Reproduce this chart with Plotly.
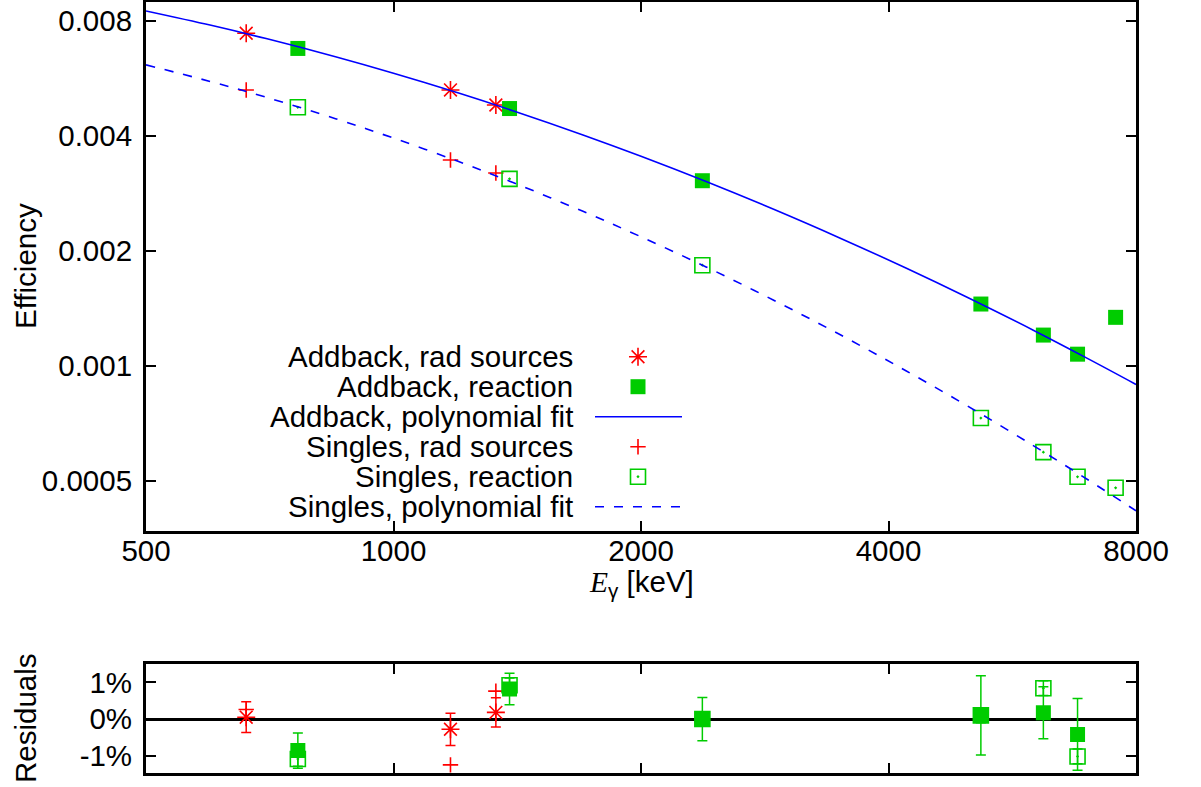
import plotly.graph_objects as go
import math

# ---------------- data ----------------
E_rad = [662, 1173, 1332]
addback_rad = [0.00743, 0.00528, 0.00482]
singles_rad = [0.00528, 0.00346, 0.00320]

E_rx = [765, 1384, 2375, 5181, 6172, 6792, 7556]
addback_rx = [0.00678, 0.00472, 0.003055, 0.001453, 0.001205, 0.001074, 0.001341]
singles_rx = [0.004756, 0.00309, 0.001836, 0.000731, 0.000595, 0.000513, 0.00048]

fit_E = [500, 600, 700, 850, 1000, 1200, 1400, 1700, 2000, 2400, 2900, 3500, 4200, 5000, 6000, 7000, 8000]
addback_fit = [0.00850, 0.007794, 0.007195, 0.006448, 0.005838, 0.005181, 0.004652, 0.004026, 0.003540,
               0.003040, 0.002572, 0.002158, 0.001805, 0.001509, 0.001241, 0.001044, 0.000895]
singles_fit = [0.00614, 0.005549, 0.005052, 0.004441, 0.003950, 0.003429, 0.003017, 0.002540, 0.002179,
               0.001817, 0.001487, 0.001205, 0.000972, 0.000784, 0.000619, 0.000503, 0.000418]

# residuals in percent
res_E_rx = [765, 1384, 2375, 5181, 6172, 6792]
res_addback_rad = [0.05, -0.28, 0.18]
err_addback_rad = [0.42, 0.44, 0.40]
res_singles_rad = [0.26, -1.25, 0.76]
res_addback_rx = [-0.86, 0.82, 0.0, 0.10, 0.17, -0.42]
err_addback_rx = [0.48, 0.43, 0.59, 1.08, 0.71, 0.98]
res_singles_rx = [-1.09, 0.92, 0.0, 0.10, 0.84, -1.02]
err_singles_rx = [0.20, 0.20, 0.20, 0.20, 0.20, 0.20]

x_tickvals = [500, 1000, 2000, 4000, 8000]
x_ticktext = ["500", "1000", "2000", "4000", "8000"]
y_tickvals = [0.0005, 0.001, 0.002, 0.004, 0.008]
y_ticktext = ["0.0005", "0.001", "0.002", "0.004", "0.008"]
r_tickvals = [-1, 0, 1]
r_ticktext = ["-1%", "0%", "1%"]

legend_labels = ["Addback, rad sources", "Addback, reaction", "Addback, polynomial fit",
                 "Singles, rad sources", "Singles, reaction", "Singles, polynomial fit"]

# ---------------- style ----------------
W, H = 1201, 787
RED = "#ff0000"
GREEN = "#00cc00"
BLUE = "#0000ff"
FONT = "Liberation Sans, Arial, Helvetica, sans-serif"
FS = 29.5

# pixel geometry (window pixels)
PX_L, PX_R = 146, 1136
TOP_T, TOP_B = 2, 531
RES_T, RES_B = 664, 773.3

def px(xp):
    return xp / W

def py(yp):
    return 1 - yp / H

fig = go.Figure()

ast = dict(symbol="asterisk-open", size=15, color=RED, line=dict(color=RED, width=1.6))
fsq = dict(symbol="square", size=15, color=GREEN, line=dict(width=0))
crs = dict(symbol="cross-thin-open", size=11, color=RED, line=dict(color=RED, width=1.6))
osq = dict(symbol="square-open-dot", size=15, color=GREEN, line=dict(color=GREEN, width=1.6))

# ---------------- top panel ----------------
fig.add_trace(go.Scatter(x=E_rad, y=addback_rad, mode="markers", name=legend_labels[0],
                         marker=ast, xaxis="x", yaxis="y"))
fig.add_trace(go.Scatter(x=E_rx, y=addback_rx, mode="markers", name=legend_labels[1],
                         marker=fsq, xaxis="x", yaxis="y"))
fig.add_trace(go.Scatter(x=fit_E, y=addback_fit, mode="lines", name=legend_labels[2],
                         line=dict(color=BLUE, width=1.6, shape="spline"), xaxis="x", yaxis="y"))
fig.add_trace(go.Scatter(x=E_rad, y=singles_rad, mode="markers", name=legend_labels[3],
                         marker=crs, xaxis="x", yaxis="y"))
fig.add_trace(go.Scatter(x=E_rx, y=singles_rx, mode="markers", name=legend_labels[4],
                         marker=osq, xaxis="x", yaxis="y"))
fig.add_trace(go.Scatter(x=fit_E, y=singles_fit, mode="lines", name=legend_labels[5],
                         line=dict(color=BLUE, width=1.6, dash="9px,10px", shape="spline"), xaxis="x", yaxis="y"))

# ---------------- residual panel ----------------
fig.add_trace(go.Scatter(x=E_rad, y=res_singles_rad, mode="markers", showlegend=False,
                         marker=crs, xaxis="x2", yaxis="y2"))
fig.add_trace(go.Scatter(x=res_E_rx, y=res_singles_rx, mode="markers", showlegend=False,
                         error_y=dict(type="data", array=err_singles_rx, color=GREEN, thickness=1.5, width=5),
                         marker=osq, xaxis="x2", yaxis="y2"))
fig.add_trace(go.Scatter(x=E_rad, y=res_addback_rad, mode="markers", showlegend=False,
                         error_y=dict(type="data", array=err_addback_rad, color=RED, thickness=1.5, width=5),
                         marker=ast, xaxis="x2", yaxis="y2"))
fig.add_trace(go.Scatter(x=res_E_rx, y=res_addback_rx, mode="markers", showlegend=False,
                         error_y=dict(type="data", array=err_addback_rx, color=GREEN, thickness=1.5, width=5),
                         marker=fsq, xaxis="x2", yaxis="y2"))

# ---------------- manual legend (text right, sample on the right) ----------------
LEG_TEXT_X = 575
LEG_SAMPLE_X = 638
LEG_LINE_X0, LEG_LINE_X1 = 595, 682
LEG_ROW0, LEG_DY = 356.7, 30.0
rows = [LEG_ROW0 + i * LEG_DY for i in range(len(legend_labels))]
for lab, ry in zip(legend_labels, rows):
    fig.add_annotation(x=px(LEG_TEXT_X), y=py(ry), xref="paper", yref="paper", text=lab,
                       showarrow=False, xanchor="right", yanchor="middle",
                       font=dict(family=FONT, size=FS, color="black"))

sample_styles = [
    dict(mode="markers", marker=ast),
    dict(mode="markers", marker=fsq),
    dict(mode="lines", line=dict(color=BLUE, width=1.6)),
    dict(mode="markers", marker=crs),
    dict(mode="markers", marker=osq),
    dict(mode="lines", line=dict(color=BLUE, width=1.6, dash="9px,10px")),
]
for st, ry in zip(sample_styles, rows):
    if st["mode"] == "lines":
        xs, ys = [LEG_LINE_X0, LEG_LINE_X1], [ry, ry]
    else:
        xs, ys = [LEG_SAMPLE_X], [ry]
    fig.add_trace(go.Scatter(x=xs, y=ys, showlegend=False, hoverinfo="skip",
                             xaxis="x3", yaxis="y3", **st))

# ---------------- axes ----------------
xdom = [px(PX_L), px(PX_R)]
top_dom = [py(TOP_B), py(TOP_T)]
res_dom = [py(RES_B), py(RES_T)]
xrange_log = [math.log10(500), math.log10(8000)]

axis_common = dict(showline=True, linecolor="black", linewidth=3, mirror="ticks", ticks="inside",
                   tickcolor="black", tickwidth=2, showgrid=False, zeroline=False, automargin=False,
                   tickfont=dict(family=FONT, size=FS, color="black"))

fig.update_layout(
    template="none",
    width=W, height=H, autosize=False,
    margin=dict(l=0, r=0, t=0, b=0, pad=0, autoexpand=False),
    paper_bgcolor="white", plot_bgcolor="rgba(0,0,0,0)",
    showlegend=False,
    xaxis=dict(domain=xdom, type="log", range=xrange_log, anchor="y",
               tickvals=x_tickvals, ticktext=x_ticktext, ticklen=10, ticklabelstandoff=-8, **axis_common),
    yaxis=dict(domain=top_dom, type="log", anchor="x",
               range=[math.log10(0.00037), math.log10(0.00897)],
               tickvals=y_tickvals, ticktext=y_ticktext, ticklen=10, ticklabelstandoff=5, **axis_common),
    xaxis2=dict(domain=xdom, type="log", range=xrange_log, anchor="y2",
                tickvals=[1000, 2000, 4000], showticklabels=False, ticklen=10, **axis_common),
    yaxis2=dict(domain=res_dom, anchor="x2", range=[-1.48, 1.50],
                tickvals=r_tickvals, ticktext=r_ticktext, ticklen=10, ticklabelstandoff=5, **axis_common),
    xaxis3=dict(overlaying="x", anchor="y3", range=[PX_L, PX_R], visible=False, automargin=False),
    yaxis3=dict(overlaying="y", anchor="x3", range=[TOP_B, TOP_T], visible=False, automargin=False),
)
fig.update_layout(yaxis2=dict(zeroline=True, zerolinecolor="black", zerolinewidth=2.5))

# ---------------- axis titles ----------------
fig.add_annotation(x=px(641), y=py(583), xref="paper", yref="paper", showarrow=False,
                   text="<span style=\"font-family:'Liberation Serif', 'Times New Roman', serif\"><i>E</i></span><sub>γ</sub> [keV]",
                   font=dict(family=FONT, size=FS, color="black"), xanchor="center", yanchor="middle")
fig.add_annotation(x=px(25), y=py(266), xref="paper", yref="paper", showarrow=False, text="Efficiency",
                   textangle=-90, font=dict(family=FONT, size=FS, color="black"),
                   xanchor="center", yanchor="middle")
fig.add_annotation(x=px(25), y=py(718), xref="paper", yref="paper", showarrow=False, text="Residuals",
                   textangle=-90, font=dict(family=FONT, size=FS, color="black"),
                   xanchor="center", yanchor="middle")

# remove the default page margin so the figure sits at the window's top-left corner
fig.write_html("out.html", config={"displayModeBar": False},
               post_script="document.body.style.margin='0px';")
